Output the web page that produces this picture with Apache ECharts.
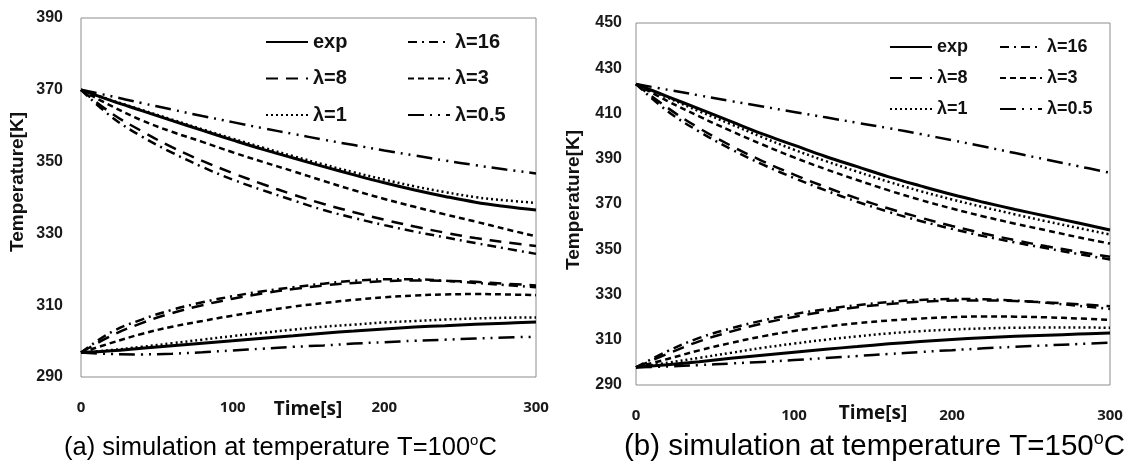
<!DOCTYPE html>
<html>
<head>
<meta charset="utf-8">
<script src="https://cdn.jsdelivr.net/npm/echarts@6/dist/echarts.min.js"></script>
<style>
html,body{margin:0;padding:0;background:#fff;}
#chart{width:1131px;height:468px;}
</style>
</head>
<body>
<div id="chart"></div>
<script>
// ---------- data ----------
const timeS = [0,20,40,60,80,100,120,140,160,180,200,220,240,260,280,300];
const seriesNames = ['exp','λ=16','λ=8','λ=3','λ=1','λ=0.5'];
const xTicks = [0,100,200,300];
const yTicksA = [290,310,330,350,370,390];
const yTicksB = [290,310,330,350,370,390,410,430,450];

// panel (a) T=100°C
const aExpCool = [370,367,364.2,361.4,358.7,356,353.4,351,348.6,346.3,344.1,342.1,340.3,338.7,337.5,336.5];
const aExpHeat = [296.8,297.3,298,298.7,299.4,300.1,300.8,301.5,302.2,302.8,303.4,303.9,304.3,304.7,305,305.3];
const a16Cool  = [370,362.5,357,352.5,348.5,345,342,339.2,336.5,334.3,332.3,330.5,328.9,327.3,325.8,324.3];
const a16Heat  = [296.8,302.5,306,308.7,310.8,312.5,313.9,315,316,316.8,317.2,317.2,316.8,316.2,315.6,315];
const a8Cool   = [370,363.5,358.5,354,350.2,346.8,343.7,340.8,338.2,335.9,333.8,331.9,330.2,328.7,327.5,326.5];
const a8Heat   = [296.8,301.5,305,307.8,310,311.8,313.3,314.5,315.5,316.2,316.7,316.9,316.8,316.5,316,315.5];
const a3Cool   = [370,365.5,361.5,358.3,355.5,352.6,349.9,347.3,344.6,342,339.6,337.4,335.3,333.3,331.2,329.2];
const a3Heat   = [296.8,299.5,302,304,305.6,307.1,308.4,309.6,310.6,311.5,312.2,312.7,313,313.1,313,312.8];
const a1Cool   = [370,367.1,364.4,361.7,359,356.4,353.9,351.5,349.2,347,345,343.1,341.5,340.1,339.2,338.5];
const a1Heat   = [296.8,297.5,298.4,299.4,300.4,301.4,302.3,303.2,304,304.6,305.2,305.6,306,306.3,306.5,306.6];
const a05Cool  = [370,368.2,366.3,364.5,362.7,361,359.3,357.7,356.1,354.6,353.1,351.7,350.3,349,347.8,346.7];
const a05Heat  = [296.8,296.4,296.3,296.5,296.9,297.4,297.9,298.4,298.8,299.3,299.7,300.1,300.4,300.7,301,301.2];

// panel (b) T=150°C
const bExpCool = [423,417.5,412,406.5,401,396,391,386.5,382,378,374.2,370.8,367.6,364.6,361.6,358.5];
const bExpHeat = [297.8,299,300.3,301.8,303.2,304.5,305.8,307,308.2,309.2,310.1,310.9,311.5,312,312.5,313];
const b16Cool  = [423,411,402,394.3,387.5,381.5,376,371,366.5,362.5,359,355.8,353,350.4,347.9,345.5];
const b16Heat  = [297.8,305,310.8,315,318.5,321.3,323.5,325.3,326.7,327.6,328,327.9,327.3,326.3,325,323.6];
const b8Cool   = [423,412.5,403.5,395.8,389,383,377.5,372.5,368,364,360.3,357,354,351.3,348.9,346.7];
const b8Heat   = [297.8,303.8,309.3,313.6,317.2,320.1,322.5,324.4,325.8,326.8,327.3,327.4,327.1,326.5,325.7,324.8];
const b3Cool   = [423,415.5,408.7,402.3,396.3,390.6,385.4,380.6,376,371.8,368,364.5,361.3,358.3,355.3,352.5];
const b3Heat   = [297.8,301.5,305.3,308.6,311.5,313.9,315.8,317.3,318.5,319.4,320,320.3,320.2,319.9,319.4,318.8];
const b1Cool   = [423,417,411,405.3,399.5,394,389,384.3,379.8,375.7,372,368.6,365.4,362.3,359.4,356.5];
const b1Heat   = [297.8,299.8,302,304.2,306.4,308.3,310,311.5,312.8,313.8,314.5,315,315.3,315.4,315.4,315.3];
const b05Cool  = [423,420.5,418,415.5,413.1,410.7,408.3,405.9,403.5,400.9,398.2,395.4,392.5,389.6,386.7,383.8];
const b05Heat  = [297.8,298.2,298.8,299.5,300.2,301,301.9,302.8,303.7,304.6,305.4,306.2,306.9,307.5,308.1,308.7];

// ---------- styles ----------
const styles = {
  'exp':   {width:3,   type:'solid'},
  'λ=16':  {width:2.5, type:[9,5,2,5]},
  'λ=8':   {width:2.5, type:[12,8]},
  'λ=3':   {width:2.5, type:[6,4]},
  'λ=1':   {width:2.5, type:[2,3]},
  'λ=0.5': {width:2.5, type:[16,6,2,6,2,6]}
};

const panelA = {
  'exp':[aExpCool,aExpHeat],'λ=16':[a16Cool,a16Heat],'λ=8':[a8Cool,a8Heat],
  'λ=3':[a3Cool,a3Heat],'λ=1':[a1Cool,a1Heat],'λ=0.5':[a05Cool,a05Heat]
};
const panelB = {
  'exp':[bExpCool,bExpHeat],'λ=16':[b16Cool,b16Heat],'λ=8':[b8Cool,b8Heat],
  'λ=3':[b3Cool,b3Heat],'λ=1':[b1Cool,b1Heat],'λ=0.5':[b05Cool,b05Heat]
};

function pairs(arr){ return timeS.map((t,i)=>[t,arr[i]]); }

const series = [];
[panelA, panelB].forEach((panel, gi) => {
  seriesNames.forEach(name => {
    panel[name].forEach(arr => {
      series.push({
        name: name,
        type: 'line',
        xAxisIndex: gi, yAxisIndex: gi,
        data: pairs(arr),
        smooth: 0.4,
        symbol: 'none',
        lineStyle: {color:'#000', width: styles[name].width, type: styles[name].type},
        itemStyle: {color:'#000'},
        animation: false
      });
    });
  });
});

const axisFontY = {fontFamily:'Liberation Sans, Arial, sans-serif', fontWeight:'bold', fontSize:16, color:'#1a1a1a'};
const axisFontX = {fontFamily:'Open Sans, sans-serif', fontWeight:'bold', fontSize:15, color:'#1a1a1a', verticalAlign:'top', lineHeight:18};

function xAxisCfg(gi, gap){
  return {
    gridIndex: gi, type:'value', min:0, max:300, interval:100,
    axisLine:{show:false}, axisTick:{show:false}, splitLine:{show:false},
    axisLabel:Object.assign({margin:gap, formatter: v => xTicks.includes(v) ? String(v) : ''}, axisFontX)
  };
}
function yAxisCfg(gi, min, max, ticks, gap){
  return {
    gridIndex: gi, type:'value', min:min, max:max, interval:20,
    axisLine:{show:false}, axisTick:{show:false}, splitLine:{show:false},
    axisLabel:Object.assign({margin:gap, formatter: v => ticks.includes(v) ? String(v) : ''}, axisFontY)
  };
}

function legendCfg(left, top, data, fs, lh, gap){
  return {
    left:left, top:top, orient:'vertical', data:data, selectedMode:false, padding:0,
    itemWidth:42, itemHeight:12, itemGap:gap,
    itemStyle:{color:'rgba(0,0,0,0)', borderColor:'rgba(0,0,0,0)', borderWidth:0},
    textStyle:{fontFamily:'Liberation Sans, Arial, sans-serif', fontWeight:'bold', fontSize:fs, lineHeight:lh, color:'#111'}
  };
}

function capRich(fs){
  return {
    m:{fontFamily:'Liberation Sans, Arial, sans-serif', fontSize:fs, color:'#000', lineHeight:fs+5},
    s:{fontFamily:'Liberation Sans, Arial, sans-serif', fontSize:Math.round(fs*0.6), color:'#000', lineHeight:fs+5, verticalAlign:'top', padding:[0,0,Math.round(fs*0.4),0]}
  };
}

const timeTitle = {fontFamily:'Open Sans, sans-serif', fontWeight:'bold', fontSize:19, fill:'#111', align:'center', verticalAlign:'top'};
const tempTitle = {fontFamily:'Liberation Sans, Arial, sans-serif', fontWeight:'bold', fontSize:19, fill:'#111', align:'center', verticalAlign:'middle'};

const option = {
  backgroundColor:'#fff',
  animation:false,
  grid:[
    {left:81, top:18, width:455, height:359, show:true, borderColor:'#8c8c8c', borderWidth:1, backgroundColor:'transparent'},
    {left:636, top:23, width:474, height:362, show:true, borderColor:'#8c8c8c', borderWidth:1, backgroundColor:'transparent'}
  ],
  xAxis:[ xAxisCfg(0, 22), xAxisCfg(1, 22) ],
  yAxis:[ yAxisCfg(0, 290, 390, yTicksA, 18), yAxisCfg(1, 290, 450, yTicksB, 14) ],
  legend:[
    legendCfg(265, 31, ['exp','λ=8','λ=1'], 20, 22, 14.5),
    legendCfg(407, 31, ['λ=16','λ=3','λ=0.5'], 20, 22, 14.5),
    legendCfg(889, 37, ['exp','λ=8','λ=1'], 18, 20, 11),
    legendCfg(999, 37, ['λ=16','λ=3','λ=0.5'], 18, 20, 11)
  ],
  graphic:[
    {type:'text', x:308, y:400, style:Object.assign({text:'Time[s]'}, timeTitle)},
    {type:'text', x:873, y:404, style:Object.assign({text:'Time[s]'}, timeTitle)},
    {type:'text', x:18, y:182, rotation:Math.PI/2, style:Object.assign({text:'Temperature[K]'}, tempTitle)},
    {type:'text', x:574, y:200, rotation:Math.PI/2, style:Object.assign({text:'Temperature[K]'}, tempTitle)},
    {type:'text', left:64, top:433, style:{rich:capRich(25.5), text:'{m|(a) simulation at temperature T=100}{s|o}{m|C}'}},
    {type:'text', left:624, top:430, style:{rich:capRich(29.5), text:'{m|(b) simulation at temperature T=150}{s|o}{m|C}'}}
  ],
  series: series
};

const chart = echarts.init(document.getElementById('chart'), null, {renderer:'canvas'});
chart.setOption(option);
</script>
</body>
</html>
